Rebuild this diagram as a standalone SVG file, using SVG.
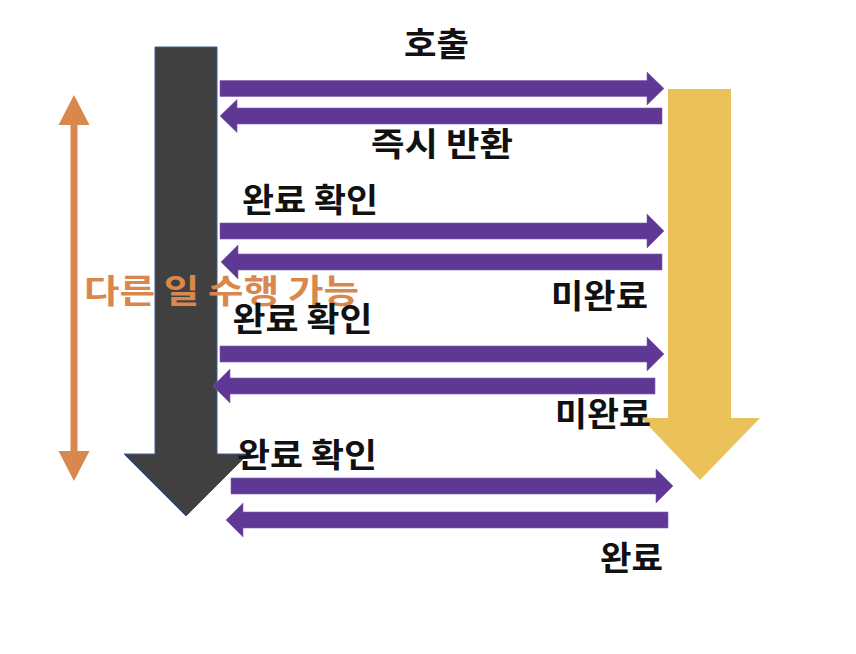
<svg xmlns="http://www.w3.org/2000/svg" width="856" height="654" viewBox="0 0 856 654">
  <style>
    .lbl { font-family: "Noto Sans CJK KR", "Noto Sans", sans-serif; font-weight: bold; font-size: 33px; fill: #111111; text-anchor: middle; dominant-baseline: central; }
    .orange { fill: #D9884D; }
    .flow { fill: #5F3794; stroke: #7E5FB0; stroke-width: 0.6; }
  </style>
  <rect width="856" height="654" fill="#ffffff"/>

  <g id="caller">
    <polygon points="155,47 217,47 217,454 248,454 186,516 124,454 155,454" fill="#404040" stroke="#3A5A95" stroke-width="1"/>
  </g>

  <g id="callee">
    <polygon points="668,89 731,89 731,418 760,418 700,480 641,418 668,418" fill="#EBC15A"/>
  </g>

  <g id="other-work">
    <polygon points="74,95 89.5,125 77.5,125 77.5,451 89.5,451 74,481 58.5,451 70.5,451 70.5,125 58.5,125" fill="#D9884D"/>
    <text class="lbl orange" x="221.5" y="289" textLength="275" lengthAdjust="spacingAndGlyphs">다른 일 수행 가능</text>
  </g>

  <g id="connectors">
    <!-- row 1 -->
    <polygon class="flow" points="220,80.5 647,80.5 647,72 664,88.5 647,105 647,96.5 220,96.5"/>
    <polygon class="flow" points="662,108 237,108 237,99.5 220,116 237,132.5 237,124 662,124"/>
    <!-- row 2 -->
    <polygon class="flow" points="220,223 647,223 647,214 664,231 647,248 647,239 220,239"/>
    <polygon class="flow" points="662,254 238,254 238,245 221,262 238,279 238,270 662,270"/>
    <!-- row 3 -->
    <polygon class="flow" points="220,346 647,346 647,337 664,354 647,371 647,362 220,362"/>
    <polygon class="flow" points="655,378 230,378 230,369 213,386 230,403 230,394 655,394"/>
    <!-- row 4 -->
    <polygon class="flow" points="231,478 656,478 656,469 673,486 656,503 656,494 231,494"/>
    <polygon class="flow" points="668,512 243,512 243,503 226,520 243,537 243,528 668,528"/>
  </g>

  <g id="labels">
    <text class="lbl" x="436.5" y="41.5" textLength="65" lengthAdjust="spacingAndGlyphs">호출</text>
    <text class="lbl" x="442" y="141.5" textLength="142" lengthAdjust="spacingAndGlyphs">즉시 반환</text>
    <text class="lbl" x="310" y="198" textLength="136" lengthAdjust="spacingAndGlyphs">완료 확인</text>
    <text class="lbl" x="599.5" y="294" textLength="97" lengthAdjust="spacingAndGlyphs">미완료</text>
    <text class="lbl" x="302.5" y="317" textLength="140" lengthAdjust="spacingAndGlyphs">완료 확인</text>
    <text class="lbl" x="603" y="412" textLength="96" lengthAdjust="spacingAndGlyphs">미완료</text>
    <text class="lbl" x="307" y="453" textLength="140" lengthAdjust="spacingAndGlyphs">완료 확인</text>
    <text class="lbl" x="631.5" y="556" textLength="63" lengthAdjust="spacingAndGlyphs">완료</text>
  </g>
</svg>
